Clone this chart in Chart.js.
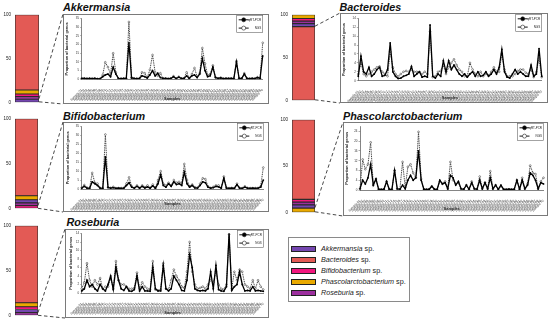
<!DOCTYPE html>
<html><head><meta charset="utf-8">
<script src="https://cdn.jsdelivr.net/npm/chart.js@4.4.0/dist/chart.umd.min.js"></script>
<style>
html,body{margin:0;padding:0;background:#fff;width:550px;height:324px;overflow:hidden;position:relative;font-family:"Liberation Sans",Arial,sans-serif;}
.box{position:absolute;border:1px solid #7a7a7a;box-sizing:border-box;}
.title{position:absolute;font-weight:bold;font-style:italic;font-size:10.8px;color:#111;white-space:nowrap;line-height:1;}
canvas{position:absolute;}
#glegend{position:absolute;left:288px;top:237px;width:122px;height:65px;border:1px solid #8a8a8a;box-sizing:border-box;}
.grow{position:absolute;left:2px;height:8px;white-space:nowrap;}
.sw{position:absolute;left:0;top:1px;width:25px;height:6px;border:1.3px solid #222;box-sizing:border-box;}
.gt{position:absolute;left:30px;top:-1px;font-size:7.2px;color:#222;line-height:10px;}
.gt i{font-style:italic;}
</style></head><body>

<div class="title" style="left:63px;top:1.5px;">Akkermansia</div>
<div class="title" style="left:339.5px;top:1.5px;">Bacteroides</div>
<div class="title" style="left:63px;top:110.5px;">Bifidobacterium</div>
<div class="title" style="left:343px;top:111px;">Phascolarctobacterium</div>
<div class="title" style="left:66.5px;top:217px;">Roseburia</div>

<div id="glegend"></div>

<script>
// ---------- DATA ----------
const genera = ['Akkermansia','Bacteroides','Bifidobacterium','Phascolarctobacterium','Roseburia'];
const composition = [3.5, 86, 3, 4.5, 3];   // % of the five genera (stacked bars)
const genusColors = ['#7446b0','#e35a55','#f2167e','#e9a900','#9c2f9e'];
const seriesNames = ['qRT-PCR','NGS'];

const samples = ['Sample 01','Sample 02','Sample 03','Sample 04','Sample 05','Sample 06','Sample 07','Sample 08','Sample 09','Sample 10',
'Sample 11','Sample 12','Sample 13','Sample 14','Sample 15','Sample 16','Sample 17','Sample 18','Sample 19','Sample 20',
'Sample 21','Sample 22','Sample 23','Sample 24','Sample 25','Sample 26','Sample 27','Sample 28','Sample 29','Sample 30',
'Sample 31','Sample 32','Sample 33','Sample 34','Sample 35','Sample 36','Sample 37','Sample 38','Sample 39','Sample 40',
'Sample 41','Sample 42','Sample 43','Sample 44','Sample 45','Sample 46','Sample 47','Sample 48','Sample 49','Sample 50',
'Sample 51','Sample 52','Sample 53','Sample 54','Sample 55','Sample 56','Sample 57','Sample 58','Sample 59','Sample 60',
'Sample 61','Sample 62','Sample 63','Sample 64','Sample 65','Sample 66','Sample 67','Sample 68','Sample 69','Sample 70'];

const akkQpcr = [0.5,0.5,0.4,0.5,0.4,0.5,0.3,0.3,1.5,2.5, 3,1.5,7,3,0.5,0.4,0.5,0.5,21,0.8, 0.5,0.4,0.5,2,1.5,0.8,2.5,5,2,3.5, 1,0.5,0.5,0.4,0.5,1.5,0.4,1.2,0.5,0.5, 2,0.5,2,2.5,1,3,12,5,1.5,2, 7,1,0.5,0.8,0.4,0.5,0.5,0.5,0.4,10, 0.5,0.5,3,0.5,0.4,0.5,0.4,1,0.5,13.5];
const akkNgs  = [0.5,0.5,0.5,0.4,0.5,0.5,0.3,0.4,2.5,9.8, 7,3,15,4,0.5,0.5,0.4,0.5,33,1, 0.5,0.5,0.5,4,3.5,1,5.5,14,4,2, 3.5,0.5,0.5,0.4,0.5,1.8,0.5,1.5,0.4,0.6, 4,0.6,3,6.5,1.5,3.5,18,9,2.5,3, 8,1.2,0.5,1,0.5,0.5,0.4,0.5,0.5,10.5, 0.5,0.5,3.5,0.6,0.5,0.5,0.5,1.2,0.5,21];

const bacQpcr = [1,5.5,2,1.5,3,1,1.5,2.5,3,1, 1.2,2.5,8.5,2,1,0.5,0.6,1,1.2,1.5, 3.2,1,1.5,2,0.8,1,0.8,12.5,1,0.6, 1.5,1,4.5,2,4.5,2.5,3.5,2.5,1.5,1, 1.5,0.8,1.5,2,1,2,1,1.2,2,1, 1.5,2.5,1.5,3,7,2,0.8,0.6,1.5,2.5, 1.5,2,1.5,1,1,3.5,1,1.5,7.2,1];
const bacNgs  = [1.5,4,1.5,1,1.5,2,2.5,3,3.2,2, 1.5,1,6.5,3,1.5,1,1.5,2,2.2,2, 2.5,2,2,2,1.5,2,1.5,11,0.8,1, 2,2.2,3.5,1.5,3,4,4.8,3.5,2.5,2, 1,1,4,2.5,1.5,1,2,1,1.5,1.2, 2,3,2,2,6,2.5,1,1,1,1.5, 2.2,2.5,2.5,1.8,1.5,2.5,0.8,2,5,0.8];

const bifQpcr = [0.5,1.5,0.5,0.4,4,3,2,0.5,0.4,18, 0.8,0.5,0.8,0.4,0.5,0.4,0.5,2,3.5,1, 0.5,1.5,0.5,1.5,0.6,1.2,0.5,1.8,0.4,3, 8,2,1,3,1.5,4,2.5,3,2,9.5, 3,1,2,0.6,0.5,2,4,3.5,1,0.5, 0.8,1.5,1.2,0.5,6,0.5,0.4,0.5,0.4,2.5, 0.5,0.4,1,0.5,0.4,0.5,0.4,0.5,1,5];
const bifNgs  = [0.8,2.2,0.8,0.5,9,3.5,3,0.6,0.5,30.5, 1,0.6,1.2,0.5,0.5,0.5,0.6,3,6.5,1.5, 0.6,2,0.6,2,1,2,0.7,2.5,0.6,5, 10,3,2,3.5,2,5,3.5,4,3,14, 5,1.5,2.5,1,0.8,3,6,5.5,1.5,0.6, 1.2,2,2,0.6,7,0.8,0.5,0.6,0.5,3, 0.6,0.5,1.5,0.6,0.5,0.5,0.5,0.6,1.5,12];

const phaQpcr = [0.5,4,2.5,5,10.5,2,4.5,0.3,0.2,0.3, 3.5,0.3,0.2,8,0.5,0.3,2,0.5,4,6, 4,5,16,4,0.3,0.2,0.3,1.5,0.3,0.2, 4,2.5,3,0.5,6,5,2,3.5,0.5,0.3, 2,0.3,3,0.5,0.3,4,0.5,3,0.5,5, 0.5,2,0.3,2,0.3,0.2,0.3,0.2,0.3,4, 0.3,4,0.5,2,7,6,4,0.5,3,2.5];
const phaNgs  = [0.5,12.5,8.5,10.5,19.5,2,4.5,0.3,0.2,0.3, 3.5,0.3,0.2,8,0.5,0.3,11.5,1,9.5,10.5, 7,5,23.8,4.5,0.3,0.2,0.3,1.5,0.3,0.2, 3.5,2.5,3.5,0.5,11.5,4,2.5,3,0.5,0.3, 2,0.3,3.5,0.5,0.3,5.5,0.5,3,0.5,7.7, 0.5,2,0.3,1.5,0.3,0.2,0.3,0.2,0.3,4, 0.3,5,0.5,2.5,10,7,6.5,0.5,3.5,5];

const rosQpcr = [0.5,1,3,1.5,2,1,0.5,2,1,0.5, 2,4,0.8,6,3,1,0.6,1.5,0.5,0.4, 0.8,4,0.5,1.5,0.5,0.5,0.4,6,1,0.5, 0.5,6.5,1,0.5,1,4,3,2,0.6,0.5, 3,9,6,1,0.6,0.5,0.6,0.5,1,5, 1,6.5,0.8,0.5,0.4,1.5,14,0.6,1.5,2, 5,2,0.5,0.6,0.5,1.5,0.5,0.6,0.5,0.4];
const rosNgs  = [1,2.5,7,3,1.5,3,2,3.5,1,1.5, 1.5,3.5,1,7.5,3,2,2,1.5,1,1, 1.2,4.8,1,2.5,1.5,1,0.8,7.5,0.8,0.6, 0.8,7,1,0.8,3,5.5,4,3,1.5,1.2, 5,12,5,2,1,1.2,1.5,1,2,3, 2.5,5,2,1,0.8,2,13.8,1,5,3, 5.5,5,2,1.5,1,3,1,3,1.5,0.8];

// y-axis [min, max, step] of each line chart
const akkAxis = [0, 35, 5];
const bacAxis = [0, 14, 2];
const bifAxis = [0, 35, 5];
const phaAxis = [0, 26, 2];
const rosAxis = [0, 14, 2];

// stacking order (bottom -> top) of each bar, as genus indices
const akkOrder = [0, 4, 2, 3, 1];
const bacOrder = [1, 0, 4, 2, 3];
const bifOrder = [2, 4, 0, 3, 1];
const phaOrder = [3, 0, 4, 2, 1];
const rosOrder = [4, 0, 2, 3, 1];

// ---------- LAYOUT ----------
const panels = [
  {q:akkQpcr, n:akkNgs, axis:akkAxis, order:akkOrder, box:[63,14,206,90],  plot:[81.7,262.7,16.7,79.3], bar:[15,39,12.5,103], sampPad:2.6, ytPad:1.6},
  {q:bacQpcr, n:bacNgs, axis:bacAxis, order:bacOrder, box:[340,13,208,90], plot:[358.3,541.7,18.3,80.7], bar:[292,315,12.5,101.5], sampPad:2.4, ytPad:2},
  {q:bifQpcr, n:bifNgs, axis:bifAxis, order:bifOrder, box:[63,122,206,90], plot:[81.7,263.3,125.7,189], bar:[15,38,117,210], sampPad:5.6, ytPad:2.5},
  {q:phaQpcr, n:phaNgs, axis:phaAxis, order:phaOrder, box:[343,122,205,94], plot:[360,545,125.7,190], bar:[292,315,117.5,213], sampPad:4.6, ytPad:1.2},
  {q:rosQpcr, n:rosNgs, axis:rosAxis, order:rosOrder, box:[65,229,204,89],  plot:[81.7,263.3,233.3,293], bar:[15,38,224,317], sampPad:3.2, ytPad:3.5}
];

Chart.defaults.font.family = '"Liberation Sans", Arial, sans-serif';

function place(el, x, y, w, h){
  el.style.left = x+'px'; el.style.top = y+'px';
  el.width = w; el.height = h; el.style.width = w+'px'; el.style.height = h+'px';
}

const innerLegend = {
  id:'innerLegend',
  afterDraw(chart){
    const ctx = chart.ctx, a = chart.chartArea;
    const w = 26, h = 17, x = a.right - w, y = 1.5;
    ctx.save();
    ctx.strokeStyle = '#666'; ctx.lineWidth = 0.6;
    ctx.strokeRect(x, y, w, h);
    chart.data.datasets.forEach((ds, i) => {
      const cy = y + 4.3 + i*8.3;
      ctx.setLineDash([]);
      ctx.beginPath(); ctx.moveTo(x+2, cy); ctx.lineTo(x+12, cy);
      ctx.strokeStyle = '#111'; ctx.lineWidth = 1; ctx.stroke();
      ctx.beginPath(); ctx.arc(x+7, cy, 2, 0, Math.PI*2);
      ctx.fillStyle = i === 0 ? '#000' : '#fff'; ctx.fill();
      ctx.strokeStyle = '#222'; ctx.lineWidth = 0.6; ctx.stroke();
      ctx.fillStyle = '#222'; ctx.font = '3px "Liberation Sans", Arial, sans-serif';
      ctx.textAlign = 'right'; ctx.textBaseline = 'middle';
      ctx.fillText(ds.label, x + w - 1.5, cy);
    });
    ctx.restore();
  }
};

function makeLine(p){
  const [bx, by, bw, bh] = p.box;
  const frame = document.createElement('div');
  frame.className = 'box';
  frame.style.left = bx+'px'; frame.style.top = by+'px';
  frame.style.width = bw+'px'; frame.style.height = bh+'px';
  document.body.appendChild(frame);
  const c = document.createElement('canvas');
  place(c, bx, by, bw, bh);
  document.body.appendChild(c);
  const yW = p.plot[0]-bx, padR = bx+bw-p.plot[1], padT = p.plot[2]-by, xH = by+bh-p.plot[3];
  return new Chart(c, {
    type:'line',
    data:{labels:samples, datasets:[
      {label:seriesNames[0], data:p.q, borderColor:'#000', borderWidth:1.3, pointRadius:0.9, pointBackgroundColor:'#000', pointBorderWidth:0, tension:0, order:1},
      {label:seriesNames[1], data:p.n, borderColor:'#333', borderWidth:1, borderDash:[1,0.8], pointRadius:0.9, pointBackgroundColor:'#fff', pointBorderColor:'#333', pointBorderWidth:0.5, tension:0, order:2}
    ]},
    options:{
      responsive:false, devicePixelRatio:1, animation:false,
      layout:{padding:{left:0, right:padR, top:padT, bottom:0}},
      plugins:{legend:{display:false}, tooltip:{enabled:false}, title:{display:false}},
      scales:{
        x:{type:'category', offset:false, afterFit(s){ s.height = xH; },
           ticks:{autoSkip:false, minRotation:45, maxRotation:45, font:{size:3.2}, color:'#3a3a3a', padding:1},
           grid:{display:false}, border:{display:true, color:'#333', width:0.6},
           title:{display:true, text:'Samples', font:{size:4, weight:'bold'}, color:'#222', padding:{top:0, bottom:p.sampPad}}},
        y:{min:p.axis[0], max:p.axis[1], afterFit(s){ s.width = yW; },
           ticks:{stepSize:p.axis[2], font:{size:3}, color:'#333', padding:1},
           grid:{display:true, drawOnChartArea:false, drawTicks:true, tickLength:1.5, color:'#333', lineWidth:0.4},
           border:{display:true, color:'#333', width:0.6},
           title:{display:true, text:'Proportion of bacterial genus', font:{size:3.8, weight:'bold'}, color:'#222', padding:{top:p.ytPad, bottom:0}}}
      }
    },
    plugins:[innerLegend]
  });
}

function makeBar(p){
  const axisW = 15, padT = 5, padB = 5, padR = 3;
  const x0 = p.bar[0]-axisW, y0 = p.bar[2]-padT;
  const w = Math.ceil(p.bar[1]-x0+padR), h = Math.ceil(p.bar[3]-p.bar[2]+padT+padB);
  const c = document.createElement('canvas');
  place(c, x0, y0, w, h);
  document.body.appendChild(c);
  return new Chart(c, {
    type:'bar',
    data:{labels:[genera[p.order[0]]], datasets:p.order.map(g => ({
      label:genera[g], data:[composition[g]], backgroundColor:genusColors[g],
      borderColor:'#2b2b2b', borderWidth:0.9, borderSkipped:false, barPercentage:1, categoryPercentage:1
    }))},
    options:{
      responsive:false, devicePixelRatio:1, animation:false,
      layout:{padding:{left:0, right:w-(p.bar[1]-x0), top:padT, bottom:h-(p.bar[3]-y0)}},
      plugins:{legend:{display:false}, tooltip:{enabled:false}},
      scales:{
        x:{stacked:true, display:false},
        y:{stacked:true, min:0, max:100, afterFit(s){ s.width = axisW; },
           ticks:{stepSize:50, font:{size:4.5}, color:'#222', padding:4},
           grid:{display:false, drawTicks:false}, border:{display:false}}
      }
    }
  });
}

panels.forEach(p => {
  p.lineChart = makeLine(p);
  p.barChart = makeBar(p);
});

// genus legend
const gl = document.getElementById('glegend');
genera.forEach((g, i) => {
  const row = document.createElement('div');
  row.className = 'grow';
  row.style.top = (7 + i*10.9)+'px';
  row.innerHTML = '<div class="sw" style="background:'+genusColors[i]+'"></div><div class="gt"><i>'+g+'</i> sp.</div>';
  gl.appendChild(row);
});

// dashed zoom connectors, from the bar scales to the chart frames
const ov = document.createElement('canvas');
place(ov, 0, 0, 550, 324);
ov.style.pointerEvents = 'none';
document.body.appendChild(ov);
const octx = ov.getContext('2d');
octx.strokeStyle = '#333'; octx.lineWidth = 0.9; octx.setLineDash([3.5,2.5]);
panels.forEach(p => {
  const bc = p.barChart, cv = bc.canvas;
  const ox = parseFloat(cv.style.left), oy = parseFloat(cv.style.top);
  const xr = ox + bc.chartArea.right;
  const yTop = oy + bc.scales.y.getPixelForValue(composition[p.order[0]]);
  const yBot = oy + bc.scales.y.getPixelForValue(0);
  const [bx, by, bw, bh] = p.box;
  octx.beginPath(); octx.moveTo(xr, yTop); octx.lineTo(bx, by); octx.stroke();
  octx.beginPath(); octx.moveTo(xr, yBot); octx.lineTo(bx, by+bh); octx.stroke();
});
</script>
</body></html>
